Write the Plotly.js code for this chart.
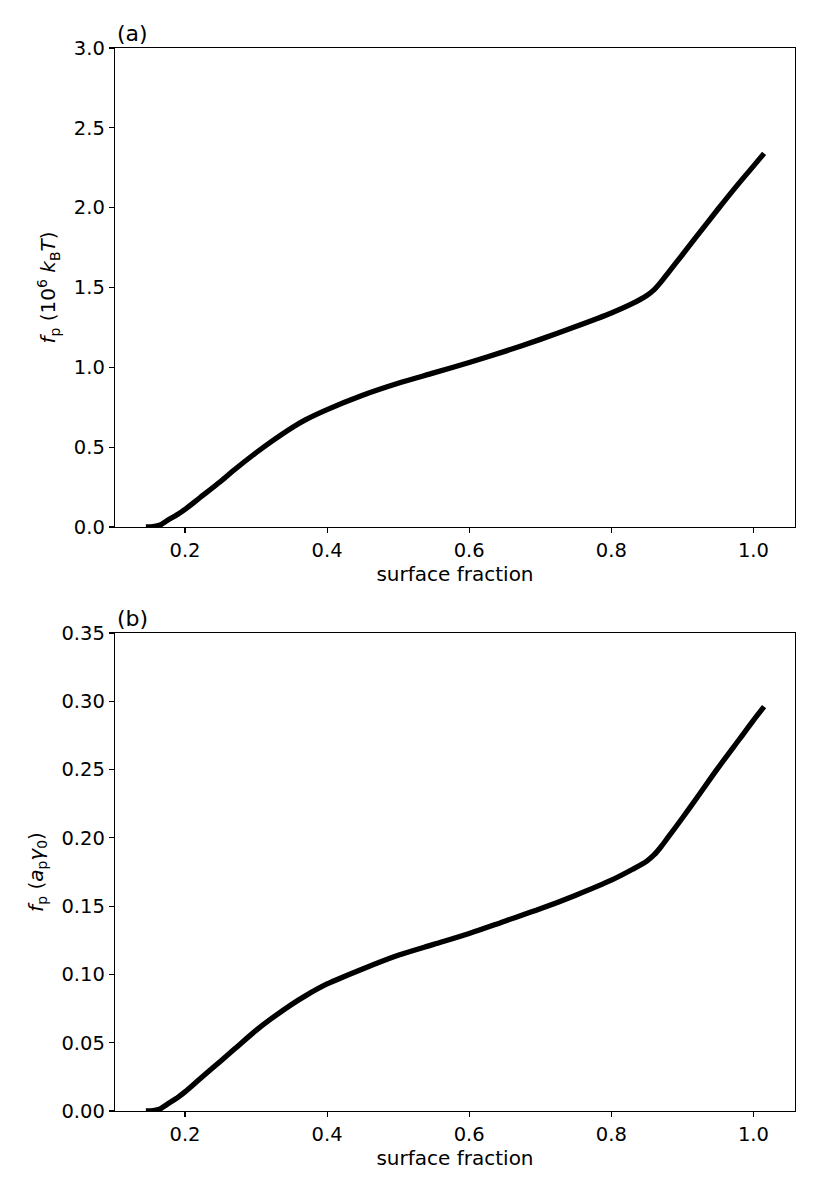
<!DOCTYPE html>
<html>
<head>
<meta charset="utf-8">
<script src="https://cdn.plot.ly/plotly-3.0.1.min.js"></script>
<style>html,body{margin:0;padding:0;background:#fff;}#chart{width:822px;height:1190px;}</style>
</head>
<body>
<div id="chart"></div>
<script>
// surface fraction (x) values
const fractionA = [0.145,0.155,0.165,0.175,0.19,0.2,0.22,0.25,0.27,0.3,0.32,0.35,0.37,0.4,0.45,0.5,0.55,0.6,0.65,0.7,0.75,0.8,0.83,0.85,0.86,0.87,0.88,0.9,0.92,0.95,0.98,1.0,1.015];
// panel (a): f_p in 10^6 kBT
const forceKT = [0.0,0.002,0.012,0.04,0.08,0.11,0.18,0.285,0.36,0.465,0.53,0.62,0.672,0.735,0.825,0.90,0.965,1.03,1.10,1.175,1.255,1.34,1.40,1.45,1.485,1.535,1.592,1.705,1.82,1.99,2.155,2.26,2.34];
// panel (b): f_p in a_p gamma_0
const fractionB = [0.145,0.155,0.165,0.175,0.19,0.2,0.22,0.25,0.27,0.3,0.32,0.35,0.37,0.4,0.45,0.5,0.55,0.6,0.65,0.7,0.75,0.8,0.83,0.85,0.86,0.87,0.88,0.9,0.92,0.95,0.98,1.0,1.015];
const forceAG = [0.0,0.0003,0.0015,0.005,0.010,0.014,0.023,0.0365,0.0455,0.059,0.067,0.078,0.0845,0.093,0.104,0.114,0.122,0.130,0.139,0.148,0.158,0.169,0.177,0.183,0.1875,0.1935,0.2005,0.2145,0.229,0.251,0.272,0.286,0.296];

const xTicks = [0.2,0.4,0.6,0.8,1.0];
const yTicksA = [0,0.5,1.0,1.5,2.0,2.5,3.0];
const yTicksB = [0,0.05,0.10,0.15,0.20,0.25,0.30,0.35];
const panelLabels = ['(a)','(b)'];

const FONT = 'DejaVu Sans, sans-serif';
const FS = 19.5;
const TFS = 20;
const ln = {color:'#000', width:5.3, shape:'spline', smoothing:0.8};

const traces = [
  {x:fractionA, y:forceKT, mode:'lines', line:ln, xaxis:'x', yaxis:'y', showlegend:false, hoverinfo:'skip'},
  {x:fractionB, y:forceAG, mode:'lines', line:ln, xaxis:'x2', yaxis:'y2', showlegend:false, hoverinfo:'skip'}
];

const axBase = {
  showline:true, linecolor:'#000', linewidth:1.3, mirror:true,
  ticks:'outside', ticklen:5, tickwidth:1.1, tickcolor:'#000',
  showgrid:false, zeroline:false,
  tickfont:{family:FONT, size:FS, color:'#000'}
};
const xRange = [0.1015, 1.0585];

const layout = {
  width:822, height:1190,
  paper_bgcolor:'#fff', plot_bgcolor:'#fff',
  margin:{l:115, r:27, t:48, b:79},
  font:{family:FONT, color:'#000'},
  xaxis:Object.assign({}, axBase, {domain:[0,1], range:xRange, tickvals:xTicks, tickformat:'.1f', anchor:'y',
    title:{text:'surface fraction', font:{family:FONT, size:TFS, color:'#000'}, standoff:4}}),
  yaxis:Object.assign({}, axBase, {domain:[0.5494,1], range:[0,3], tickvals:yTicksA, tickformat:'.1f', anchor:'x',
    title:{text:'<i>f</i><sub>p</sub> (10<sup>6</sup> <i>k</i><sub>B</sub><i>T</i>)', font:{family:FONT, size:TFS, color:'#000'}, standoff:12}}),
  xaxis2:Object.assign({}, axBase, {domain:[0,1], range:xRange, tickvals:xTicks, tickformat:'.1f', anchor:'y2',
    title:{text:'surface fraction', font:{family:FONT, size:TFS, color:'#000'}, standoff:4}}),
  yaxis2:Object.assign({}, axBase, {domain:[0,0.4497], range:[0,0.35], tickvals:yTicksB, tickformat:'.2f', anchor:'x2',
    title:{text:'<i>f</i><sub>p</sub> (<i>a</i><sub>p</sub><i>γ</i><sub>0</sub>)', font:{family:FONT, size:TFS, color:'#000'}, standoff:12}}),
  annotations:[
    {text:panelLabels[0], xref:'paper', yref:'paper', x:0, y:1, xanchor:'left', yanchor:'bottom', showarrow:false, yshift:0, font:{family:FONT, size:22, color:'#000'}},
    {text:panelLabels[1], xref:'paper', yref:'paper', x:0, y:0.4497, xanchor:'left', yanchor:'bottom', showarrow:false, yshift:0, font:{family:FONT, size:22, color:'#000'}}
  ]
};

Plotly.newPlot('chart', traces, layout, {staticPlot:true, displayModeBar:false});
</script>
</body>
</html>
